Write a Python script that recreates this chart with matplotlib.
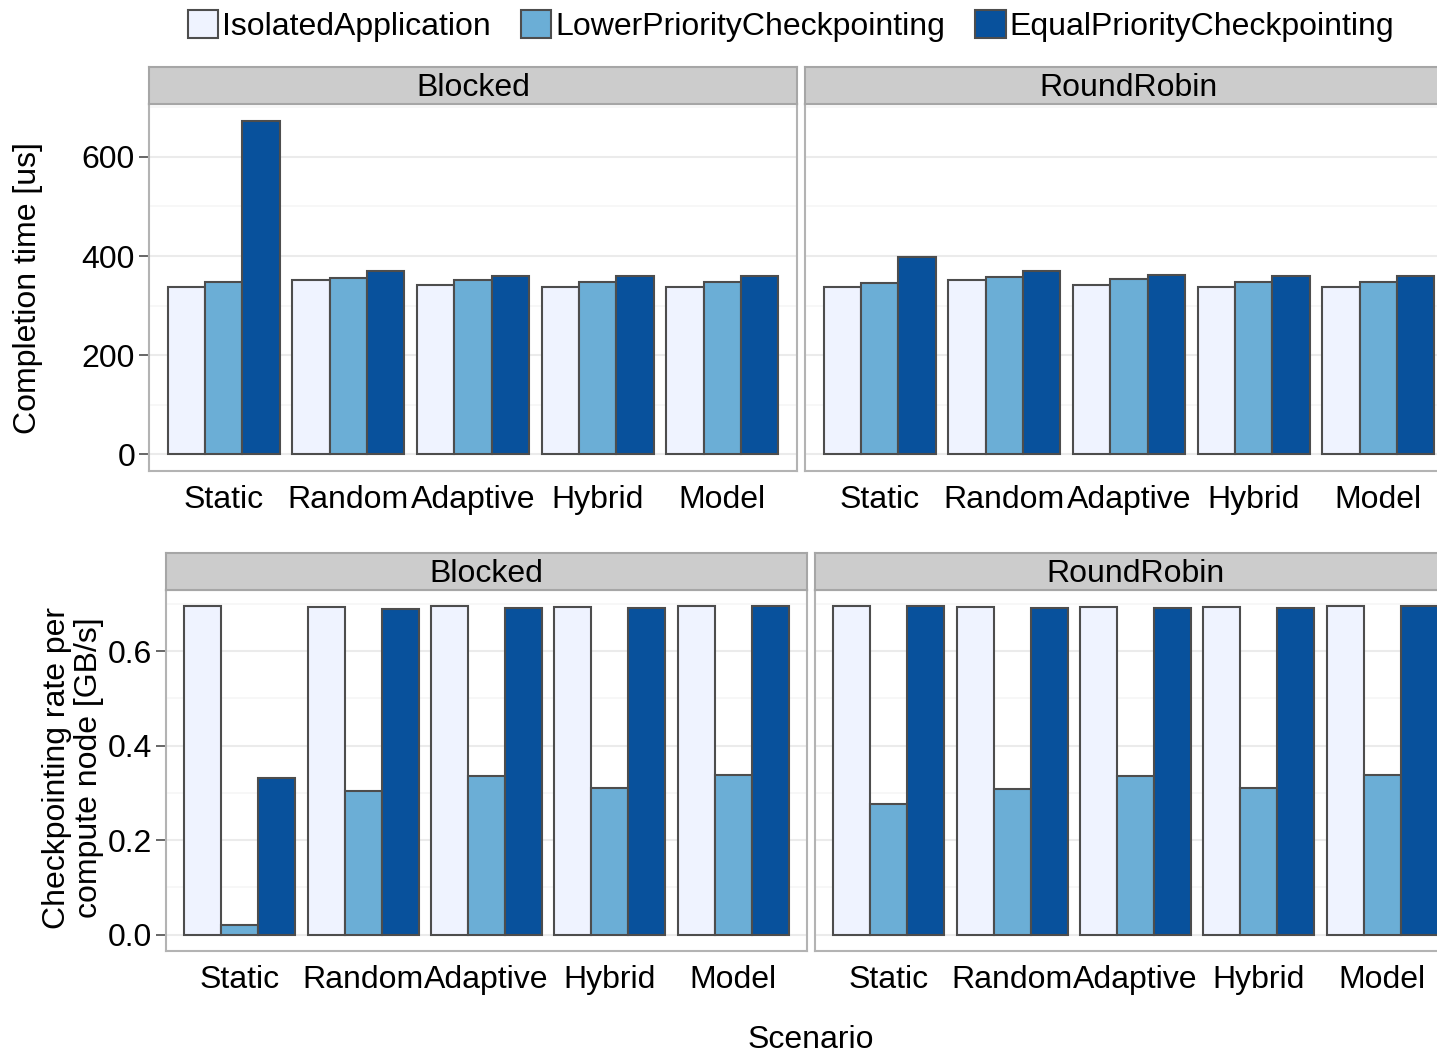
import numpy as np
import matplotlib
matplotlib.use('Agg')
import matplotlib.pyplot as plt
from matplotlib.patches import Patch
from matplotlib.ticker import MultipleLocator

plt.rcParams['font.family'] = ['Liberation Sans', 'DejaVu Sans']

scenarios = ['Static', 'Random', 'Adaptive', 'Hybrid', 'Model']
series = ['IsolatedApplication', 'LowerPriorityCheckpointing', 'EqualPriorityCheckpointing']
colors = ['#EFF3FF', '#6BAED6', '#08519C']

# completion time [us]
time_blocked_isolated = [337, 351, 342, 337, 337]
time_blocked_lower = [347, 356, 352, 347, 348]
time_blocked_equal = [673, 369, 360, 360, 360]
time_rr_isolated = [337, 351, 342, 337, 337]
time_rr_lower = [346, 358, 354, 347, 348]
time_rr_equal = [398, 370, 362, 360, 360]

# checkpointing rate per compute node [GB/s]
rate_blocked_isolated = [0.695, 0.693, 0.695, 0.693, 0.695]
rate_blocked_lower = [0.020, 0.304, 0.335, 0.310, 0.338]
rate_blocked_equal = [0.332, 0.689, 0.691, 0.692, 0.695]
rate_rr_isolated = [0.695, 0.693, 0.693, 0.693, 0.695]
rate_rr_lower = [0.277, 0.309, 0.335, 0.310, 0.338]
rate_rr_equal = [0.695, 0.692, 0.692, 0.692, 0.695]

FS = 23
W, H = 1437, 1054


def px(x0, y0, x1, y1):
    """pixel box -> figure fraction rect"""
    return [x0 / W, 1 - y1 / H, (x1 - x0) / W, (y1 - y0) / H]


def draw_panel(fig, box, strip_h, label, groups, ylim, major, minor, show_y, tick_fmt):
    x0, y0, x1, y1 = box
    ax = fig.add_axes(px(x0, y0, x1, y1))
    sx = fig.add_axes(px(x0, y0 - strip_h, x1, y0))

    x = np.arange(1, len(scenarios) + 1)
    for k, vals in enumerate(groups):
        ax.bar(x + (k - 1) * 0.3, vals, width=0.3, color=colors[k],
               edgecolor='#4D4D4D', linewidth=1.5, zorder=3)

    ax.set_xlim(0.4, len(scenarios) + 0.6)
    ax.set_ylim(*ylim)
    ax.set_xticks(x)
    ax.set_xticklabels(scenarios, fontsize=FS)
    ax.tick_params(axis='x', length=0, pad=10)
    ax.yaxis.set_major_locator(MultipleLocator(major))
    ax.yaxis.set_minor_locator(MultipleLocator(minor))
    ax.yaxis.set_major_formatter(tick_fmt)
    ax.grid(which='major', axis='y', color='#EBEBEB', lw=1.5, zorder=0)
    ax.grid(which='minor', axis='y', color='#F7F7F7', lw=1.3, zorder=0)
    ax.set_axisbelow(True)
    ax.tick_params(axis='y', which='minor', length=0)
    if show_y:
        ax.tick_params(axis='y', which='major', labelsize=FS, length=7,
                       width=1.2, color='#4D4D4D', pad=3)
    else:
        ax.tick_params(axis='y', which='major', left=False, labelleft=False)
    for s in ax.spines.values():
        s.set_color('#B3B3B3')
        s.set_linewidth(1.5)

    sx.set_facecolor('#CCCCCC')
    sx.set_xticks([])
    sx.set_yticks([])
    for s in sx.spines.values():
        s.set_color('#A6A6A6')
        s.set_linewidth(1.5)
    sx.text(0.5, 0.42, label, ha='center', va='center', fontsize=FS,
            transform=sx.transAxes)
    return ax


fig = plt.figure(figsize=(W / 100, H / 100), dpi=100)

# top row: completion time
tmax = max(max(time_blocked_equal), max(time_rr_equal))
tlim = (-0.05 * tmax, 1.05 * tmax)
int_fmt = lambda v, p: '%d' % v
draw_panel(fig, (149, 104, 797, 471), 37, 'Blocked',
           [time_blocked_isolated, time_blocked_lower, time_blocked_equal],
           tlim, 200, 100, True, int_fmt)
draw_panel(fig, (805, 104, 1453, 471), 37, 'RoundRobin',
           [time_rr_isolated, time_rr_lower, time_rr_equal],
           tlim, 200, 100, False, int_fmt)

# bottom row: checkpointing rate
rmax = max(max(rate_blocked_isolated), max(rate_rr_isolated),
           max(rate_blocked_equal), max(rate_rr_equal))
rlim = (-0.05 * rmax, 1.05 * rmax)
dec_fmt = lambda v, p: '%.1f' % v
draw_panel(fig, (166, 590, 807, 951), 37, 'Blocked',
           [rate_blocked_isolated, rate_blocked_lower, rate_blocked_equal],
           rlim, 0.2, 0.1, True, dec_fmt)
draw_panel(fig, (815, 590, 1456, 951), 37, 'RoundRobin',
           [rate_rr_isolated, rate_rr_lower, rate_rr_equal],
           rlim, 0.2, 0.1, False, dec_fmt)

fig.text(28 / W, 1 - 288 / H, 'Completion time [us]', rotation=90,
         ha='center', va='center', fontsize=FS)
fig.text(73 / W, 1 - 768 / H, 'Checkpointing rate per\ncompute node [GB/s]',
         rotation=90, ha='center', va='center', multialignment='center',
         linespacing=1.05, fontsize=FS)
fig.text(811 / W, 1 - 1040 / H, 'Scenario', ha='center', va='center', fontsize=FS)

handles = [Patch(facecolor=c, edgecolor='#4D4D4D', linewidth=1.5) for c in colors]
fig.legend(handles, series, loc='center', bbox_to_anchor=(791 / W, 1 - 26 / H),
           ncol=3, frameon=False, fontsize=FS, handlelength=0.95, handleheight=0.95,
           handletextpad=0.12, columnspacing=0.95, borderaxespad=0, borderpad=0)

fig.savefig('out.png', dpi=100)
